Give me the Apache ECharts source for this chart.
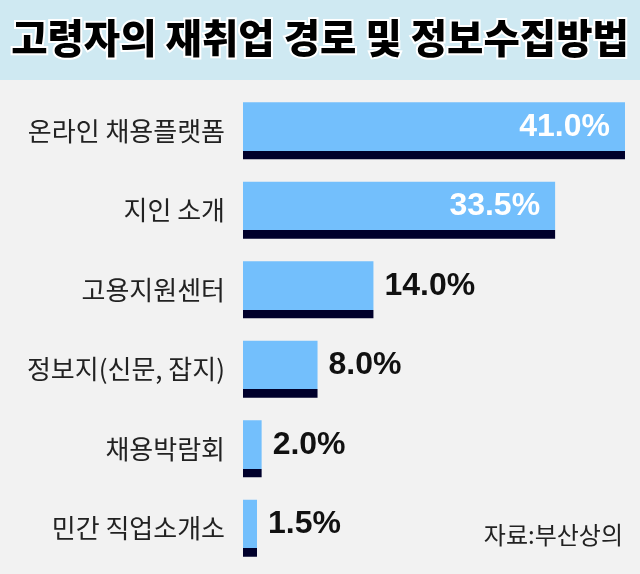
<!DOCTYPE html>
<html>
<head>
<meta charset="utf-8">
<script src="https://cdn.jsdelivr.net/npm/echarts@6/dist/echarts.min.js"></script>
<style>
  html, body { margin: 0; padding: 0; background: #f2f2f2; }
  #chart { width: 640px; height: 574px; }
</style>
</head>
<body>
<div id="chart"></div>
<script>
// 재취업 경로 데이터
const categories = ["온라인 채용플랫폼", "지인 소개", "고용지원센터", "정보지(신문, 잡지)", "채용박람회", "민간 직업소개소"];
const values = [41.0, 33.5, 14.0, 8.0, 2.0, 1.5];
const insideCount = 2; // 막대 안쪽에 흰 글씨로 표시되는 항목 수

const chart = echarts.init(document.getElementById("chart"));

const barColor = {
  type: "linear", x: 0, y: 0, x2: 0, y2: 1,
  colorStops: [
    { offset: 0, color: "#73bffc" },
    { offset: 0.855, color: "#73bffc" },
    { offset: 0.855, color: "#00002b" },
    { offset: 1, color: "#00002b" },
  ],
};

const data = values.map((v, i) => ({
  value: v,
  label: i < insideCount
    ? { position: "insideRight", color: "#fff", distance: 15 }
    : { position: "right", color: "#111", distance: 11 },
}));

chart.setOption({
  backgroundColor: "#f2f2f2",
  animation: false,
  graphic: [
    { type: "rect", left: 0, top: 0, shape: { width: 640, height: 80 }, style: { fill: "#cfe9f2" }, z: 0 },
    {
      type: "text", left: "center", top: 16,
      style: {
        text: "고령자의 재취업 경로 및 정보수집방법",
        font: "900 39.5px 'Noto Sans CJK KR'",
        fill: "#000", stroke: "#fff", lineWidth: 4,
      },
      z: 2,
    },
    {
      type: "text", right: 17, top: 523,
      style: { text: "자료:부산상의", font: "24px 'Noto Sans CJK KR'", fill: "#222" },
    },
  ],
  grid: { left: 243, right: 15, top: 91, bottom: 6 },
  xAxis: { type: "value", min: 0, max: 41, show: false },
  yAxis: {
    type: "category",
    data: categories,
    inverse: true,
    axisLine: { show: false },
    axisTick: { show: false },
    axisLabel: {
      margin: 18,
      color: "#222",
      fontSize: 26,
      fontFamily: "Noto Sans CJK KR",
      padding: [0, 0, 12, 0],
    },
  },
  series: [{
    type: "bar",
    data: data,
    barWidth: 57,
    itemStyle: { color: barColor },
    label: {
      show: true,
      formatter: (p) => p.value.toFixed(1) + "%",
      fontFamily: "Liberation Sans",
      fontWeight: "bold",
      fontSize: 32,
      offset: [0, -4],
    },
  }],
});
</script>
</body>
</html>
